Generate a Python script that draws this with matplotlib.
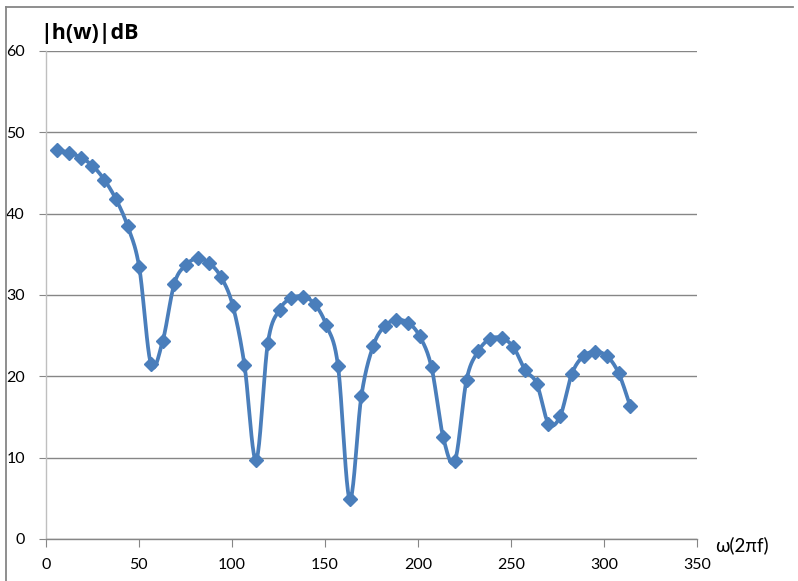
import numpy as np
import matplotlib
matplotlib.use("Agg")
import matplotlib.pyplot as plt
from matplotlib.lines import Line2D

# Data
omega = [6.28, 12.57, 18.85, 25.13, 31.42, 37.70, 43.98, 50.27, 56.55, 62.83,
         69.12, 75.40, 81.68, 87.96, 94.25, 100.53, 106.81, 113.10, 119.38, 125.66,
         131.95, 138.23, 144.51, 150.80, 157.08, 163.36, 169.65, 175.93, 182.21, 188.50,
         194.78, 201.06, 207.35, 213.63, 219.91, 226.19, 232.48, 238.76, 245.04, 251.33,
         257.61, 263.89, 270.18, 276.46, 282.74, 289.03, 295.31, 301.59, 307.88, 314.16]
h_db = [47.8, 47.5, 46.9, 45.9, 44.2, 41.8, 38.5, 33.4, 21.5, 24.3,
        31.4, 33.7, 34.5, 33.9, 32.2, 28.7, 21.4, 9.7, 24.1, 28.2,
        29.6, 29.8, 28.9, 26.3, 21.3, 4.9, 17.6, 23.7, 26.2, 26.9,
        26.6, 24.9, 21.1, 12.5, 9.6, 19.6, 23.1, 24.6, 24.7, 23.6,
        20.8, 19.1, 14.2, 15.1, 20.3, 22.5, 23.0, 22.5, 20.4, 16.3]
x_ticks = [0, 50, 100, 150, 200, 250, 300, 350]
y_ticks = [0, 10, 20, 30, 40, 50, 60]


def smooth(xs, ys, n=20):
    # Excel-like smoothed line: cubic Bezier through points (Catmull-Rom tangents)
    xs = np.asarray(xs, float); ys = np.asarray(ys, float)
    P = np.column_stack([xs, ys])
    out = []
    for i in range(len(P) - 1):
        p0 = P[i - 1] if i > 0 else P[i]
        p1 = P[i]; p2 = P[i + 1]
        p3 = P[i + 2] if i + 2 < len(P) else P[i + 1]
        c1 = p1 + (p2 - p0) / 6.0
        c2 = p2 - (p3 - p1) / 6.0
        t = np.linspace(0, 1, n, endpoint=(i == len(P) - 2))[:, None]
        seg = ((1 - t) ** 3) * p1 + 3 * ((1 - t) ** 2) * t * c1 + 3 * (1 - t) * t ** 2 * c2 + t ** 3 * p2
        out.append(seg)
    out = np.vstack(out)
    return out[:, 0], out[:, 1]


plt.rcParams['font.family'] = ['Lato', 'DejaVu Sans']

fig = plt.figure(figsize=(7.98, 5.81), dpi=100)
ax = fig.add_axes([45.7 / 798, 1 - 539 / 581, (697 - 45.7) / 798, (539 - 51) / 581])

blue = '#4A7EBB'
sx, sy = smooth(omega, h_db)
ax.plot(sx, sy, color=blue, lw=2.7, solid_capstyle='round', zorder=3)
ax.plot(omega, h_db, linestyle='none', marker='D', markersize=7.6, color=blue,
        markeredgecolor=blue, zorder=4)

ax.set_xlim(0, 350)
ax.set_ylim(0, 60)
ax.set_xticks(x_ticks)
ax.set_yticks(y_ticks)
ax.set_xticklabels([str(v) for v in x_ticks], fontsize=11.5)
ax.set_yticklabels([str(v) for v in y_ticks], fontsize=11.5)

ax.grid(axis='y', color='#868686', lw=1.0)
ax.set_axisbelow(True)
for s in ['top', 'right']:
    ax.spines[s].set_visible(False)
ax.spines['left'].set_color('#BFBFBF')
ax.spines['left'].set_linewidth(1.0)
ax.spines['bottom'].set_color('#868686')
ax.spines['bottom'].set_linewidth(1.0)
ax.tick_params(axis='y', length=5, color='#868686', pad=10, labelcolor='black')
ax.tick_params(axis='x', length=6, color='#868686', pad=8, labelcolor='black')

fig.text(40 / 798, 1 - 33 / 581, '|h(w)|dB', fontsize=15.5, fontweight='bold',
         family=['Open Sans', 'DejaVu Sans'], ha='left', va='center')
fig.text(715 / 798, 1 - 545 / 581, 'ω(2πf)', fontsize=13.5, ha='left', va='center')

# outer chart border
fig.add_artist(Line2D([6 / 798, 793 / 798], [1 - 7 / 581, 1 - 7 / 581],
                      transform=fig.transFigure, color='#868686', lw=1.3))
fig.add_artist(Line2D([6 / 798, 6 / 798], [1 - 7 / 581, 0], transform=fig.transFigure,
                      color='#868686', lw=1.3))

fig.savefig('out.png', dpi=100)
